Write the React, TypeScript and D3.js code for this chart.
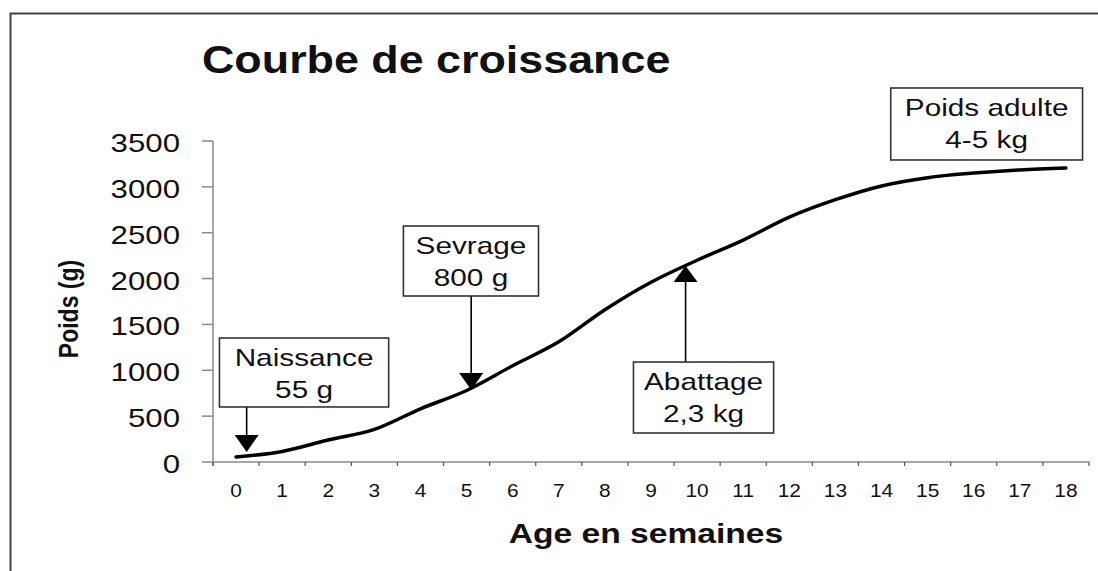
import React from "react";
import * as d3 from "d3";

// semaines et poids (g)
const weeks = [0, 1, 2, 3, 4, 5, 6, 7, 8, 9, 10, 11, 12, 13, 14, 15, 16, 17, 18];
const weights = [55, 115, 240, 355, 580, 780, 1050, 1310, 1660, 1960, 2200, 2420, 2670, 2860, 3010, 3100, 3150, 3185, 3205];
const yTicks = [0, 500, 1000, 1500, 2000, 2500, 3000, 3500];

const noteLabels = [
  ["Naissance", "55 g"],
  ["Sevrage", "800 g"],
  ["Abattage", "2,3 kg"],
  ["Poids adulte", "4-5 kg"],
];

// placement of the notes, in data units (week, grams)
const noteLayout = [
  { x0: -0.36, x1: 3.31, yTop: 1352, yBot: 600, arrow: { w: 0.23, to: 109, dir: "down" } },
  { x0: 3.63, x1: 6.56, yTop: 2573, yBot: 1810, arrow: { w: 5.1, to: 785, dir: "down" } },
  { x0: 8.62, x1: 11.66, yTop: 1090, yBot: 316, arrow: { w: 9.75, to: 2137, dir: "up" } },
  { x0: 14.2, x1: 18.36, yTop: 4078, yBot: 3293, arrow: null },
];

const W = 1098;
const H = 571;
const font = "'Liberation Sans', Arial, Helvetica, sans-serif";
const SX = 1.2; // the source picture is a bit wider than it is tall

const x = d3.scaleLinear().domain([-0.5, 18.5]).range([213, 1089]);
const y = d3.scaleLinear().domain([0, 3500]).range([462, 141]);

function SText({ x: tx, y: ty, size, bold, anchor, sx, children }: any) {
  return (
    <text
      transform={`translate(${tx},${ty}) scale(${sx ?? SX},1)`}
      textAnchor={anchor ?? "start"}
      fontFamily={font}
      fontSize={size}
      fontWeight={bold ? "bold" : "normal"}
      fill="#111"
    >
      {children}
    </text>
  );
}

export default function App() {
  const line = d3
    .line<number>()
    .x((_, i) => x(weeks[i]))
    .y((d) => y(d))
    .curve(d3.curveMonotoneX);

  const boundaries = d3.range(-0.5, 19, 1);

  return (
    <svg
      width={W}
      height={H}
      style={{ position: "fixed", left: 0, top: 0, background: "#fff" }}
    >
      <rect x={10.5} y={13.5} width={1200} height={800} fill="none" stroke="#444" strokeWidth={2} />

      <SText x={202} y={73} size={38} bold sx={1.18}>Courbe de croissance</SText>

      {/* axe Y */}
      <line x1={x(-0.5)} x2={x(-0.5)} y1={y(3500)} y2={y(0) + 4} stroke="#8a8a8a" strokeWidth={1.5} />
      {yTicks.map((t) => (
        <g key={t}>
          <line x1={x(-0.5) - 11} x2={x(-0.5)} y1={y(t)} y2={y(t)} stroke="#8a8a8a" strokeWidth={1.5} />
          <SText x={180} y={y(t) + 11} size={26} anchor="end">{t}</SText>
        </g>
      ))}

      {/* axe X */}
      <line x1={x(-0.5)} x2={x(18.5)} y1={y(0)} y2={y(0)} stroke="#8a8a8a" strokeWidth={1.5} />
      {boundaries.map((b) => (
        <line key={b} x1={x(b)} x2={x(b)} y1={y(0)} y2={y(0) + 4} stroke="#555" strokeWidth={1.2} />
      ))}
      {weeks.map((w) => (
        <SText key={w} x={x(w)} y={497} size={19} anchor="middle" sx={1.1}>{w}</SText>
      ))}

      <SText x={646} y={543} size={28} bold anchor="middle">Age en semaines</SText>
      <text
        transform={`translate(78,309) rotate(-90) scale(1,${SX})`}
        textAnchor="middle"
        fontFamily={font}
        fontSize={23}
        fontWeight="bold"
        fill="#111"
      >
        Poids (g)
      </text>

      <path d={line(weights) ?? ""} fill="none" stroke="#000" strokeWidth={3.5} strokeLinejoin="round" strokeLinecap="round" />

      {noteLayout.map((n, i) => {
        const bx = x(n.x0);
        const bw = x(n.x1) - x(n.x0);
        const by = y(n.yTop);
        const bh = y(n.yBot) - y(n.yTop);
        const cx = bx + bw / 2;
        let arrow = null;
        if (n.arrow) {
          const ax = x(n.arrow.w);
          const tip = y(n.arrow.to);
          const down = n.arrow.dir === "down";
          const start = down ? by + bh : by;
          const base = down ? tip - 17 : tip + 16;
          arrow = (
            <g>
              <line x1={ax} x2={ax} y1={start} y2={base} stroke="#000" strokeWidth={1.6} />
              <path d={`M${ax - 12},${base} L${ax + 12},${base} L${ax},${tip} Z`} fill="#000" />
            </g>
          );
        }
        return (
          <g key={i}>
            {arrow}
            <rect x={bx} y={by} width={bw} height={bh} fill="#fff" stroke="#333" strokeWidth={1.6} />
            <SText x={cx} y={by + 28} size={24} anchor="middle" sx={1.24}>{noteLabels[i][0]}</SText>
            <SText x={cx} y={by + 60} size={24} anchor="middle" sx={1.24}>{noteLabels[i][1]}</SText>
          </g>
        );
      })}
    </svg>
  );
}
